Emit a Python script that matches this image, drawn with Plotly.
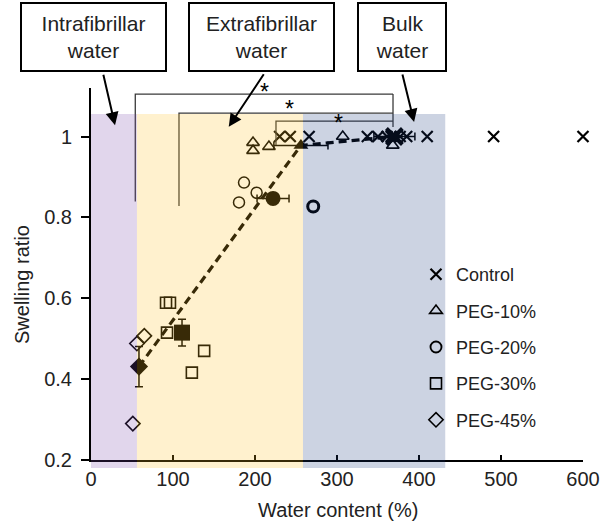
import plotly.graph_objects as go

# ---------------- data ----------------
control_x = [230, 243, 266, 337, 350, 361, 366, 371, 377, 385, 410, 491, 600]
control_y = [1.0, 1.0, 1.0, 1.0, 1.0, 1.0, 1.0, 1.0, 1.0, 1.0, 1.0, 1.0, 1.0]

peg10_x = [197.6, 197.6, 217, 307, 368]
peg10_y = [0.985, 0.965, 0.975, 1.0, 0.978]

peg20_x = [186.6, 202, 180.5, 271]
peg20_y = [0.886, 0.861, 0.837, 0.827]
peg20_lw = [1.5, 1.5, 1.5, 3]

peg30_x = [91.5, 96.3, 92.7, 138, 123]
peg30_y = [0.589, 0.589, 0.515, 0.470, 0.416]

peg45_x = [56, 65, 51]
peg45_y = [0.488, 0.507, 0.290]

# group means and errors
mean_control = (370, 1.0); err_control_x = 25
mean_peg10 = (256, 0.978); err_peg10_x = 33
mean_peg20 = (222, 0.847); err_peg20_x = 19.5
mean_peg30 = (111, 0.515); err_peg30_y = 0.033
mean_peg45 = (58.5, 0.431); err_peg45_y = 0.05

# water regions
regions = [(0, 56, "rgb(118,68,168)"), (56, 258.5, "rgb(255,191,32)"), (258.5, 432, "rgb(23,55,123)")]

# significance brackets: (left x, bottom y, top y)
brackets = [(54, 0.839, 1.105), (107.3, 0.828, 1.058), (225.6, 0.979, 1.038)]
bracket_right_x = 368.3
bracket_right_bottom = 1.0235

x_ticks = [0, 100, 200, 300, 400, 500, 600]
y_ticks = [0.2, 0.4, 0.6, 0.8, 1.0]
y_ticktext = ["0.2", "0.4", "0.6", "0.8", "1"]

W, H = 600, 529
L, R, T, B = 91, 17, 88, 69
PW, PH = W - L - R, H - T - B


def pxx(px):
    return (px - L) / PW


def pxy(py):
    return (H - B - py) / PH


FONT = "Liberation Sans, Arial, sans-serif"
TXT = "#222222"
MC = "black"

fig = go.Figure()

# dashed trend line through group means
fig.add_trace(go.Scatter(
    x=[mean_peg45[0], mean_peg10[0], mean_control[0]],
    y=[mean_peg45[1], mean_peg10[1], mean_control[1]],
    mode="lines", line=dict(color=MC, width=3.2, dash="8px,5px"),
    showlegend=False, hoverinfo="skip"))

# individual samples
fig.add_trace(go.Scatter(x=control_x, y=control_y, mode="markers", name="Control",
                         legendgroup="a", cliponaxis=False,
                         marker=dict(symbol="x-thin", size=11, line=dict(color=MC, width=2.2))))
fig.add_trace(go.Scatter(x=peg10_x, y=peg10_y, mode="markers", name="PEG-10%",
                         legendgroup="b",
                         marker=dict(symbol="triangle-up-open", size=11, color=MC, line=dict(width=1.6))))
fig.add_trace(go.Scatter(x=peg20_x, y=peg20_y, mode="markers", name="PEG-20%",
                         legendgroup="c",
                         marker=dict(symbol="circle-open", size=11, color=MC, line=dict(width=peg20_lw))))
fig.add_trace(go.Scatter(x=peg30_x, y=peg30_y, mode="markers", name="PEG-30%",
                         legendgroup="d",
                         marker=dict(symbol="square-open", size=11, color=MC, line=dict(width=1.6))))
fig.add_trace(go.Scatter(x=peg45_x, y=peg45_y, mode="markers", name="PEG-45%",
                         legendgroup="e",
                         marker=dict(symbol="diamond-open", size=11, color=MC, line=dict(width=1.6))))

# means with error bars
ebx = dict(color=MC, thickness=1.5, width=4)
fig.add_trace(go.Scatter(x=[mean_peg45[0]], y=[mean_peg45[1]], mode="markers", showlegend=False,
                         marker=dict(symbol="diamond", size=14, color=MC),
                         error_y=dict(type="constant", value=err_peg45_y, **ebx)))
fig.add_trace(go.Scatter(x=[mean_peg30[0]], y=[mean_peg30[1]], mode="markers", showlegend=False,
                         marker=dict(symbol="square", size=16, color=MC),
                         error_y=dict(type="constant", value=err_peg30_y, **ebx)))
fig.add_trace(go.Scatter(x=[mean_peg20[0]], y=[mean_peg20[1]], mode="markers", showlegend=False,
                         marker=dict(symbol="circle", size=15, color=MC),
                         error_x=dict(type="constant", value=err_peg20_x, **ebx)))
fig.add_trace(go.Scatter(x=[mean_peg10[0]], y=[mean_peg10[1]], mode="markers", showlegend=False,
                         marker=dict(symbol="triangle-up", size=13, color=MC),
                         error_x=dict(type="constant", value=err_peg10_x, **ebx)))
fig.add_trace(go.Scatter(x=[mean_control[0]], y=[mean_control[1]], mode="markers", showlegend=False,
                         marker=dict(symbol="x-thin", size=16, line=dict(color=MC, width=4)),
                         error_x=dict(type="constant", value=err_control_x, **ebx)))

shapes = []
# brackets
for (bx, by0, by1) in brackets:
    shapes.append(dict(type="path", xref="x", yref="y",
                       path=f"M {bx},{by0} L {bx},{by1} L {bracket_right_x},{by1}",
                       line=dict(color="#3a3a3a", width=1.3), layer="above"))
shapes.append(dict(type="line", xref="x", yref="y", x0=bracket_right_x, x1=bracket_right_x,
                   y0=max(b[2] for b in brackets), y1=bracket_right_bottom,
                   line=dict(color="#3a3a3a", width=1.3), layer="above"))
# shaded regions (drawn over the data, translucent)
for (x0, x1, c) in regions:
    shapes.append(dict(type="rect", xref="x", yref="paper", x0=x0, x1=x1,
                       y0=pxy(468), y1=pxy(114), fillcolor=c, opacity=0.22,
                       line=dict(width=0), layer="above"))

annotations = []
# label boxes
boxes = [("Intrafibrillar<br>water", 93.5, 143), ("Extrafibrillar<br>water", 261.5, 143), ("Bulk<br>water", 402, 86)]
for (t, cx, w) in boxes:
    annotations.append(dict(text=t, xref="paper", yref="paper", x=pxx(cx), y=pxy(37),
                            xanchor="center", yanchor="middle", showarrow=False,
                            width=w, height=66, bordercolor="black", borderwidth=2, borderpad=0,
                            bgcolor="white", font=dict(family=FONT, size=21, color=TXT)))
# arrows
arrows = [(29.3, 1.028, -12, -52), (168, 1.024, 36, -54), (394, 1.036, -12, -49)]
for (hx, hy, ax, ay) in arrows:
    annotations.append(dict(text="", x=hx, y=hy, xref="x", yref="y", ax=ax, ay=ay,
                            showarrow=True, arrowhead=2, arrowsize=1.3, arrowwidth=2,
                            arrowcolor="black"))
# asterisks
for (px, py) in [(264, 92), (289, 109), (338, 123)]:
    annotations.append(dict(text="*", xref="paper", yref="paper", x=pxx(px), y=pxy(py),
                            xanchor="center", yanchor="middle", showarrow=False,
                            font=dict(family=FONT, size=23, color="black")))
# axis titles
annotations.append(dict(text="Swelling ratio", xref="paper", yref="paper", x=pxx(22), y=pxy(285),
                        textangle=-90, showarrow=False, xanchor="center", yanchor="middle",
                        font=dict(family=FONT, size=20, color=TXT)))
annotations.append(dict(text="Water content (%)", xref="paper", yref="paper", x=pxx(338), y=pxy(510),
                        showarrow=False, xanchor="center", yanchor="middle",
                        font=dict(family=FONT, size=20, color=TXT)))

fig.update_layout(
    width=W, height=H, margin=dict(l=L, r=R, t=T, b=B, autoexpand=False),
    paper_bgcolor="white", plot_bgcolor="white",
    font=dict(family=FONT, size=18, color=TXT),
    shapes=shapes, annotations=annotations,
    legend=dict(x=pxx(416), y=pxy(256), xanchor="left", yanchor="top",
                traceorder="grouped", tracegroupgap=10, bgcolor="rgba(0,0,0,0)",
                font=dict(family=FONT, size=18, color=TXT)),
    xaxis=dict(range=[0, 600], tickvals=x_ticks, ticks="inside", ticklen=5, tickwidth=2,
               tickcolor="black", showline=True, linecolor="black", linewidth=2,
               showgrid=False, zeroline=False, automargin=False,
               tickfont=dict(size=20, color=TXT)),
    yaxis=dict(range=[0.2, 1.12], tickvals=y_ticks, ticktext=y_ticktext, ticks="outside",
               ticklen=8, tickwidth=2, tickcolor="black", showline=True, linecolor="black",
               linewidth=2, showgrid=False, zeroline=False, automargin=False,
               ticklabelstandoff=5, tickfont=dict(size=20, color=TXT)),
)

fig.write_html("out.html", config={"displayModeBar": False},
               post_script="document.body.style.margin='0';document.body.style.overflow='hidden';")
